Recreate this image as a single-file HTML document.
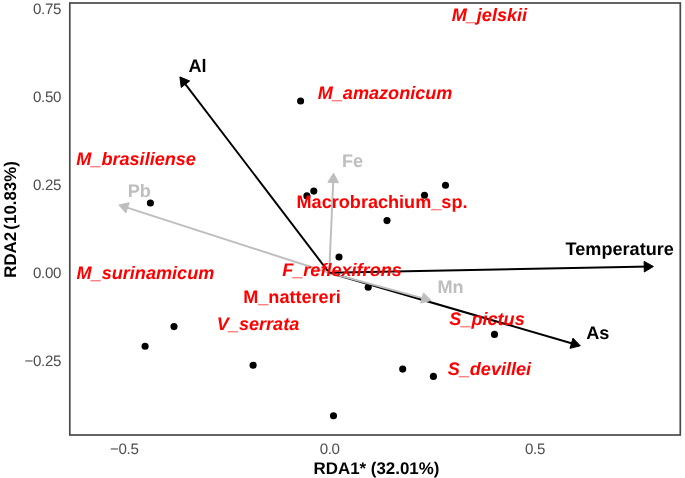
<!DOCTYPE html>
<html><head><meta charset="utf-8"><title>RDA</title>
<style>
html,body{margin:0;padding:0;background:#fff;}
svg{display:block;will-change:transform;}
text{font-family:"Liberation Sans",Arial,sans-serif;text-rendering:geometricPrecision;}
.tick{font-size:15.1px;fill:#4d4d4d;letter-spacing:-0.35px;}
.ax{font-size:16.9px;font-weight:bold;fill:#000;}
.sp{font-size:18.1px;font-weight:bold;fill:#ff0000;}
.it{font-style:italic;}
.env{font-size:18.1px;font-weight:bold;}
</style></head><body>
<svg width="685" height="478" viewBox="0 0 685 478">
<rect x="0" y="0" width="685" height="478" fill="#fff"/>
<g fill="#000"><circle cx="300.6" cy="101.0" r="3.55"/><circle cx="150.4" cy="203.0" r="3.55"/><circle cx="306.9" cy="195.9" r="3.55"/><circle cx="313.8" cy="191.1" r="3.55"/><circle cx="424.5" cy="195.2" r="3.55"/><circle cx="445.5" cy="185.2" r="3.55"/><circle cx="387.0" cy="220.6" r="3.55"/><circle cx="339" cy="257" r="3.55"/><circle cx="368.2" cy="287.3" r="3.55"/><circle cx="494.5" cy="334.4" r="3.55"/><circle cx="174.0" cy="326.6" r="3.55"/><circle cx="145.1" cy="346.3" r="3.55"/><circle cx="253.1" cy="365.3" r="3.55"/><circle cx="402.7" cy="369.1" r="3.55"/><circle cx="433.4" cy="376.4" r="3.55"/><circle cx="333.5" cy="415.7" r="3.55"/></g>
<g fill="none"><line x1="329.2" y1="272.8" x2="181.72" y2="79.29" stroke="#000" stroke-width="1.95"/><polygon points="179.90,76.90 181.25,87.41 189.68,80.99" fill="#000" stroke="#000" stroke-width="1" stroke-linejoin="round"/>
<line x1="329.2" y1="272.8" x2="577.42" y2="344.96" stroke="#000" stroke-width="1.95"/><polygon points="580.30,345.80 572.96,338.15 570.01,348.33" fill="#000" stroke="#000" stroke-width="1" stroke-linejoin="round"/>
<line x1="329.2" y1="272.8" x2="333.47" y2="176.30" stroke="#bebebe" stroke-width="1.95"/><polygon points="333.60,173.30 327.90,182.24 338.49,182.71" fill="#bebebe" stroke="#bebebe" stroke-width="1" stroke-linejoin="round"/>
<line x1="329.2" y1="272.8" x2="428.10" y2="299.61" stroke="#bebebe" stroke-width="1.95"/><polygon points="431.00,300.40 423.53,292.88 420.75,303.11" fill="#bebebe" stroke="#bebebe" stroke-width="1" stroke-linejoin="round"/>
<line x1="329.2" y1="272.8" x2="121.66" y2="205.92" stroke="#bebebe" stroke-width="1.95"/><polygon points="118.80,205.00 125.91,212.86 129.16,202.77" fill="#bebebe" stroke="#bebebe" stroke-width="1" stroke-linejoin="round"/>
<line x1="329.2" y1="272.8" x2="650.40" y2="266.56" stroke="#000" stroke-width="1.95"/><polygon points="653.40,266.50 644.12,261.38 644.32,271.98" fill="#000" stroke="#000" stroke-width="1" stroke-linejoin="round"/></g>
<text class="env" id="e_Al" x="197.6" y="71.8" fill="#000" text-anchor="middle">Al</text>
<text class="env" id="e_Temperature" x="619.7" y="254.9" fill="#000" text-anchor="middle">Temperature</text>
<text class="env" id="e_As" x="597.7" y="338.6" fill="#000" text-anchor="middle">As</text>
<text class="env" id="e_Pb" x="139.3" y="197.0" fill="#bebebe" text-anchor="middle">Pb</text>
<text class="env" id="e_Fe" x="352.5" y="167.2" fill="#bebebe" text-anchor="middle">Fe</text>
<text class="env" id="e_Mn" x="450.5" y="292.9" fill="#bebebe" text-anchor="middle">Mn</text>
<text class="sp it" id="s_M_jelskii" x="489.4" y="21.1" text-anchor="middle">M_jelskii</text>
<text class="sp it" id="s_M_amazonicum" x="385.1" y="98.9" text-anchor="middle">M_amazonicum</text>
<text class="sp it" id="s_M_brasiliense" x="136.1" y="164.5" text-anchor="middle">M_brasiliense</text>
<text class="sp" id="s_Macrobrachium_sp" x="382" y="207.5" text-anchor="middle">Macrobrachium_sp.</text>
<text class="sp it" id="s_M_surinamicum" x="145.4" y="279.0" text-anchor="middle">M_surinamicum</text>
<text class="sp it" id="s_F_reflexifrons" x="342" y="276.0" text-anchor="middle">F_reflexifrons</text>
<text class="sp" id="s_M_nattereri" x="292" y="303.2" text-anchor="middle">M_nattereri</text>
<text class="sp it" id="s_V_serrata" x="258" y="329.6" text-anchor="middle">V_serrata</text>
<text class="sp it" id="s_S_pictus" x="487" y="325.2" text-anchor="middle">S_pictus</text>
<text class="sp it" id="s_S_devillei" x="489.4" y="374.8" text-anchor="middle">S_devillei</text>
<rect x="69.8" y="3" width="610.5" height="432" fill="none" stroke="#4a4a4a" stroke-width="1.7"/>
<text class="tick" x="61" y="14.2" text-anchor="end">0.75</text>
<text class="tick" x="61" y="102.2" text-anchor="end">0.50</text>
<text class="tick" x="61" y="190.2" text-anchor="end">0.25</text>
<text class="tick" x="61" y="278.2" text-anchor="end">0.00</text>
<text class="tick" x="61" y="366.2" text-anchor="end">−0.25</text>
<text class="tick" x="124.3" y="454.2" text-anchor="middle">−0.5</text>
<text class="tick" x="329.6" y="454.2" text-anchor="middle">0.0</text>
<text class="tick" x="535" y="454.2" text-anchor="middle">0.5</text>
<text class="ax" id="xl" x="376.5" y="473.5" text-anchor="middle">RDA1* (32.01%)</text>
<text class="ax" id="yl" transform="translate(15.8,219.45) rotate(-90)" style="word-spacing:-2.5px" text-anchor="middle">RDA2 (10.83%)</text>
</svg>
</body></html>
